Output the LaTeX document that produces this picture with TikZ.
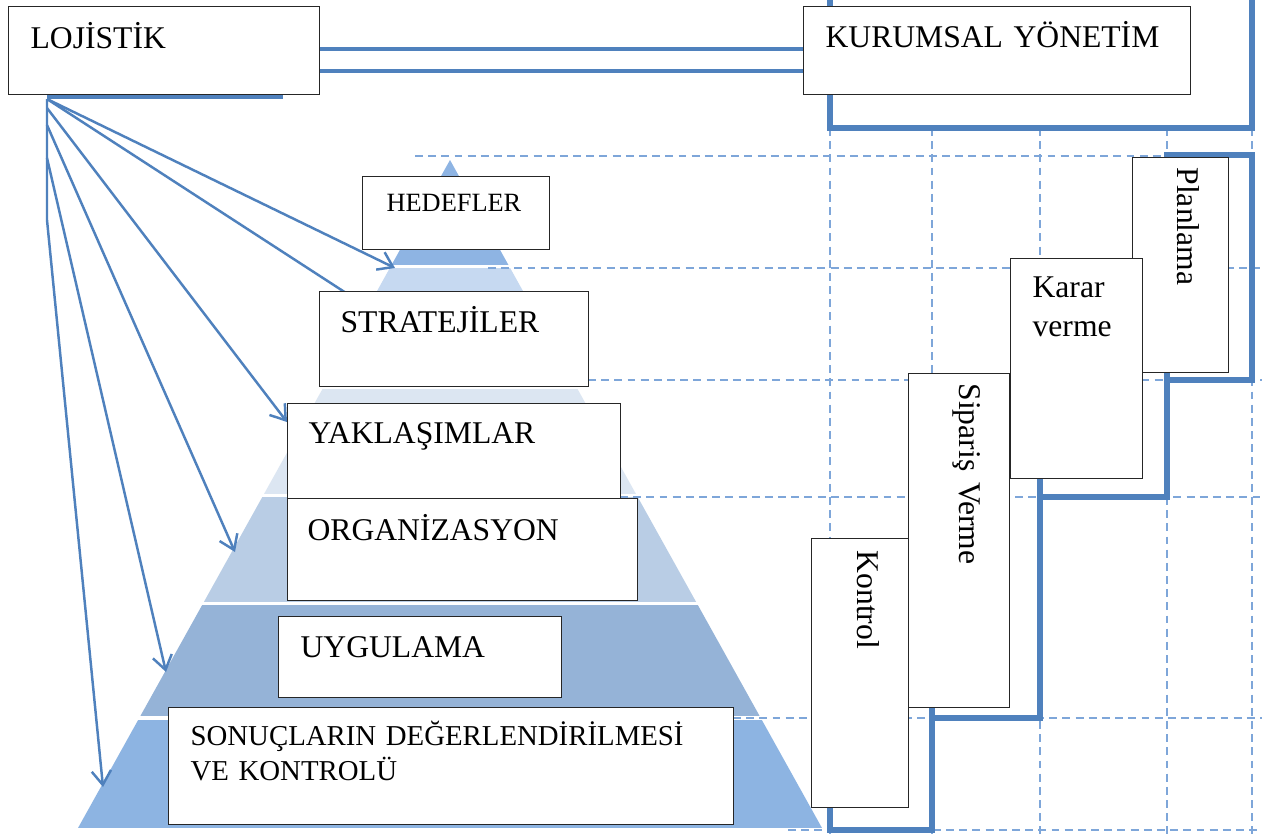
\documentclass[tikz,border=0pt]{standalone}
\usepackage{fontspec}
\setmainfont{Liberation Serif}
\usepackage{tikz}
\usetikzlibrary{arrows.meta}
\definecolor{stepblue}{HTML}{4F81BD}
\definecolor{gridblue}{HTML}{7EA6D9}
\definecolor{tierA}{HTML}{8EB4E3}
\definecolor{tierB}{HTML}{C6D9F1}
\definecolor{tierC}{HTML}{DCE6F2}
\definecolor{tierD}{HTML}{B9CDE5}
\definecolor{tierE}{HTML}{95B3D7}
\definecolor{tierF}{HTML}{8DB4E2}
\newlength\pxu
\setlength\pxu{0.02cm}

\begin{document}
\begin{tikzpicture}[
  x=0.02cm, y=-0.02cm,
  tbox/.style={rectangle, draw=black!85, fill=white, line width=0.7pt,
               anchor=north west, align=left, inner xsep=22\pxu, inner ysep=0pt,
               font=\fontsize{18}{20}\selectfont},
  vbox/.style={tbox, rotate=-90, inner xsep=10\pxu},
  arr/.style={-{Straight Barb[length=8pt,width=11pt]}, draw=stepblue, line width=1.4pt},
  stepline/.style={draw=stepblue, line width=3.4pt},
  link/.style={draw=stepblue, line width=2.2pt},
  gridline/.style={draw=gridblue, line width=1.1pt, dash pattern=on 4.5pt off 3pt}
]
  \path[use as bounding box, fill=white] (0,0) rectangle (1262,836);

  % pyramid
  \coordinate (apex) at (450,160);
  \coordinate (bl) at (78,828);
  \coordinate (br) at (822,828);
  \begin{scope}
    \clip (apex) -- (bl) -- (br) -- cycle;
    \fill[tierA] (0,150) rectangle (1262,265);
    \fill[tierB] (0,268) rectangle (1262,387);
    \fill[tierC] (0,389) rectangle (1262,494);
    \fill[tierD] (0,497) rectangle (1262,602);
    \fill[tierE] (0,605) rectangle (1262,716);
    \fill[tierF] (0,720) rectangle (1262,828);
  \end{scope}

  % dashed grid
  \draw[gridline] (415,156) -- (1167,156);
  \foreach \y/\x in {268/488, 380/588, 497/620, 718/733, 830/788}
    \draw[gridline] (\x,\y) -- (1262,\y);
  \foreach \x in {830,932,1040,1167,1252}
    \draw[gridline] (\x,128) -- (\x,836);

  % steps
  \draw[stepline] (830,-10) rectangle (1252,128);
  \draw[stepline] (1167,155) rectangle (1252,380);
  \draw[stepline] (1040,262) rectangle (1167,497);
  \draw[stepline] (932,377) rectangle (1040,718);
  \draw[stepline] (830,542) rectangle (932,830);

  % arrows from LOJISTIK
  \coordinate (fan) at (47,99);
  \coordinate (k3) at (47,108);
  \coordinate (k4) at (47,125);
  \coordinate (k5) at (47,158);
  \coordinate (k6) at (47,220);
  \coordinate (t1) at (395,268);
  \coordinate (t2) at (380,315);
  \coordinate (t3) at (287,422);
  \coordinate (t4) at (235,552);
  \coordinate (t5) at (166,672);
  \coordinate (t6) at (103,787);
  \draw[link, line width=2.4pt] (47,97) -- (283,97);
  \draw[arr] (fan) -- (t1);
  \draw[arr] (fan) -- (t2);
  \draw[arr] (k3) -- (t3);
  \draw[arr] (k4) -- (t4);
  \draw[arr] (k5) -- (t5);
  \draw[arr] (fan) -- (k6) -- (t6);

  % boxes
  \node[tbox, text width=267\pxu, text height=42\pxu, text depth=46\pxu] (loj) at (8,6) {LOJİSTİK};
  \node[tbox, text width=343\pxu, text height=41\pxu, text depth=47\pxu] (kur) at (803,6) {KURUMSAL YÖNETİM};
  \draw[link] ([yshift=2\pxu]loj.east) -- ([yshift=2\pxu]kur.west);
  \draw[link] ([yshift=-20\pxu]loj.east) -- ([yshift=-20\pxu]kur.west);

  \node[tbox, inner xsep=24\pxu, font=\fontsize{15}{17}\selectfont,
        text width=139\pxu, text height=35\pxu, text depth=38\pxu] (hed) at (362,176) {HEDEFLER};
  \node[tbox, inner xsep=21\pxu, text width=227\pxu, text height=41\pxu, text depth=54\pxu] (str) at (319,291) {STRATEJİLER};
  \node[tbox, inner xsep=21\pxu, text width=291\pxu, text height=40\pxu, text depth=55\pxu] (yak) at (287,403) {YAKLAŞIMLAR};
  \node[tbox, inner xsep=20\pxu, text width=310\pxu, text height=42\pxu, text depth=60\pxu] (org) at (287,498) {ORGANİZASYON};
  \node[tbox, text width=239\pxu, text height=41\pxu, text depth=40\pxu] (uyg) at (278,616) {UYGULAMA};
  \node[tbox, font=\fontsize{16.4}{20}\selectfont,
        text width=521\pxu, text height=38\pxu, text depth=79\pxu] (son) at (168,707)
    {SONUÇLARIN DEĞERLENDİRİLMESİ\\VE KONTROLÜ};

  \node[vbox, text width=195\pxu, text height=51\pxu, text depth=45\pxu] (pla) at (1229,157) {Planlama};
  \node[tbox, font=\fontsize{18}{22}\selectfont,
        text width=88\pxu, text height=39\pxu, text depth=181\pxu] (kar) at (1010,258) {Karar\\verme};
  \node[vbox, text width=314\pxu, text height=50\pxu, text depth=51\pxu] (sip) at (1010,373) {Sipariş Verme};
  \node[vbox, inner xsep=12\pxu, text width=245\pxu, text height=51\pxu, text depth=46\pxu] (kon) at (909,538) {Kontrol};
\end{tikzpicture}
\end{document}
